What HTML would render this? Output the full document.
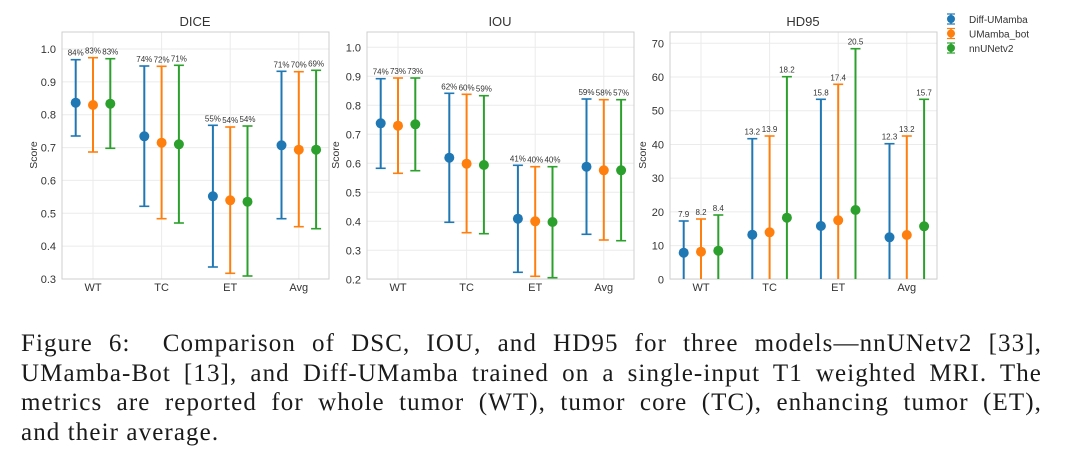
<!DOCTYPE html>
<html><head><meta charset="utf-8">
<style>
html,body{margin:0;padding:0;background:#fff;width:1080px;height:467px;overflow:hidden}
svg text{font-family:"Liberation Sans",sans-serif}
.cap{position:absolute;left:21px;width:1021px;font-family:"Liberation Serif",serif;font-size:25px;letter-spacing:1.1px;color:#1a1a1a;line-height:29.7px;white-space:nowrap}
.j{text-align:justify;text-align-last:justify}
</style></head><body>
<svg id="s" width="1080" height="310" style="position:absolute;left:0;top:0"></svg>
<div class="cap j" style="top:329px">Figure 6:&nbsp; Comparison of DSC, IOU, and HD95 for three models—nnUNetv2 [33],</div>
<div class="cap j" style="top:359px">UMamba-Bot [13], and Diff-UMamba trained on a single-input T1 weighted MRI. The</div>
<div class="cap j" style="top:388px">metrics are reported for whole tumor (WT), tumor core (TC), enhancing tumor (ET),</div>
<div class="cap" style="top:418px">and their average.</div>
<script>
var C=["#1f77b4","#ff7f0e","#2ca02c"];
var out="";
function panel(L,title,ticks,tickY,pts,labels,scoreX){
  var T=32,B=279,R=L+267;
  ticks.forEach(function(t,i){out+='<line x1="'+L+'" x2="'+R+'" y1="'+tickY[i]+'" y2="'+tickY[i]+'" stroke="#ebebeb" stroke-width="1"/>';
    out+='<text x="'+(L-6)+'" y="'+(tickY[i]+4)+'" font-size="11" fill="#333" text-anchor="end">'+t+'</text>';});
  var cats=["WT","TC","ET","Avg"];
  for(var c=0;c<4;c++){var cx=L+31+68.6*c;
    out+='<line x1="'+cx+'" x2="'+cx+'" y1="'+T+'" y2="'+B+'" stroke="#ebebeb"/>';
    out+='<text x="'+cx+'" y="291" font-size="11" fill="#333" text-anchor="middle">'+cats[c]+'</text>';}
  out+='<rect x="'+L+'" y="'+T+'" width="267" height="247" fill="none" stroke="#cfcfcf"/>';
  out+='<text x="'+(L+133)+'" y="26" font-size="13" fill="#333" text-anchor="middle">'+title+'</text>';
  out+='<text transform="translate('+scoreX+',155) rotate(-90)" font-size="10.5" fill="#333" text-anchor="middle">Score</text>';
  for(var c=0;c<4;c++)for(var k=0;k<3;k++){
    var p=pts[c][k],x=L+31+68.6*c+(k-1)*17.3,col=C[k];
    out+='<line x1="'+x+'" x2="'+x+'" y1="'+p[1]+'" y2="'+p[2]+'" stroke="'+col+'" stroke-width="2"/>';
    out+='<line x1="'+(x-5)+'" x2="'+(x+5)+'" y1="'+p[1]+'" y2="'+p[1]+'" stroke="'+col+'" stroke-width="1.6"/>';
    if(p[2]<B)out+='<line x1="'+(x-5)+'" x2="'+(x+5)+'" y1="'+p[2]+'" y2="'+p[2]+'" stroke="'+col+'" stroke-width="1.6"/>';
    out+='<circle cx="'+x+'" cy="'+p[0]+'" r="5" fill="'+col+'"/>';
    out+='<text x="'+x+'" y="'+(p[1]-4)+'" font-size="8" fill="#333" text-anchor="middle">'+labels[c][k]+'</text>';
  }
}
function lin(a,b,n){var r=[];for(var i=0;i<n;i++)r.push(a+(b-a)*i/(n-1));return r;}
panel(62,"DICE",["1.0","0.9","0.8","0.7","0.6","0.5","0.4","0.3"],lin(49,279,8),
 [[[102.7,59.7,136],[105,57.7,152],[103.7,58.7,148.3]],
  [[136.3,66,206.3],[142.7,66.3,218.7],[144.3,65.3,223]],
  [[196.3,125.3,267],[200.3,127,273.3],[201.7,126,276]],
  [[145.3,71.3,218.7],[149.7,71.7,226.7],[149.7,70.3,228.7]]],
 [["84%","83%","83%"],["74%","72%","71%"],["55%","54%","54%"],["71%","70%","69%"]],37);
panel(367,"IOU",["1.0","0.9","0.8","0.7","0.6","0.5","0.4","0.3","0.2"],lin(47.3,279.3,9),
 [[[123.3,78.7,168.3],[125.7,78,173.3],[124.3,78,170.7]],
  [[157.7,93.3,222.3],[163.7,94.3,232.7],[165,95.7,233.7]],
  [[218.7,165.3,272.3],[221.3,166.7,276.3],[222,166.7,277.7]],
  [[166.7,99,234.3],[170.3,99.7,240],[170.3,99.7,240.7]]],
 [["74%","73%","73%"],["62%","60%","59%"],["41%","40%","40%"],["59%","58%","57%"]],339);
panel(670,"HD95",["70","60","50","40","30","20","10","0"],lin(43.3,279.3,8),
 [[[252.7,221,279],[251.7,219,279],[250.7,215,279]],
  [[234.7,138.7,279],[232.3,136,279],[217.7,76.7,279]],
  [[226,99.3,279],[220.3,84.3,279],[210,48.7,279]],
  [[237.3,143.7,279],[235,136,279],[226.3,99.3,279]]],
 [["7.9","8.2","8.4"],["13.2","13.9","18.2"],["15.8","17.4","20.5"],["12.3","13.2","15.7"]],646);
var leg=["Diff-UMamba","UMamba_bot","nnUNetv2"];
for(var k=0;k<3;k++){var y=19+14.5*k;
 out+='<line x1="951" x2="951" y1="'+(y-5)+'" y2="'+(y+5)+'" stroke="'+C[k]+'" stroke-width="1.5"/>';
 out+='<line x1="947" x2="955" y1="'+(y-5)+'" y2="'+(y-5)+'" stroke="'+C[k]+'" stroke-width="1.2"/>';
 out+='<line x1="947" x2="955" y1="'+(y+5)+'" y2="'+(y+5)+'" stroke="'+C[k]+'" stroke-width="1.2"/>';
 out+='<circle cx="951" cy="'+y+'" r="4" fill="'+C[k]+'"/>';
 out+='<text x="969" y="'+(y+4)+'" font-size="10" fill="#333">'+leg[k]+'</text>';}
document.getElementById("s").innerHTML=out;
</script>
</body></html>
